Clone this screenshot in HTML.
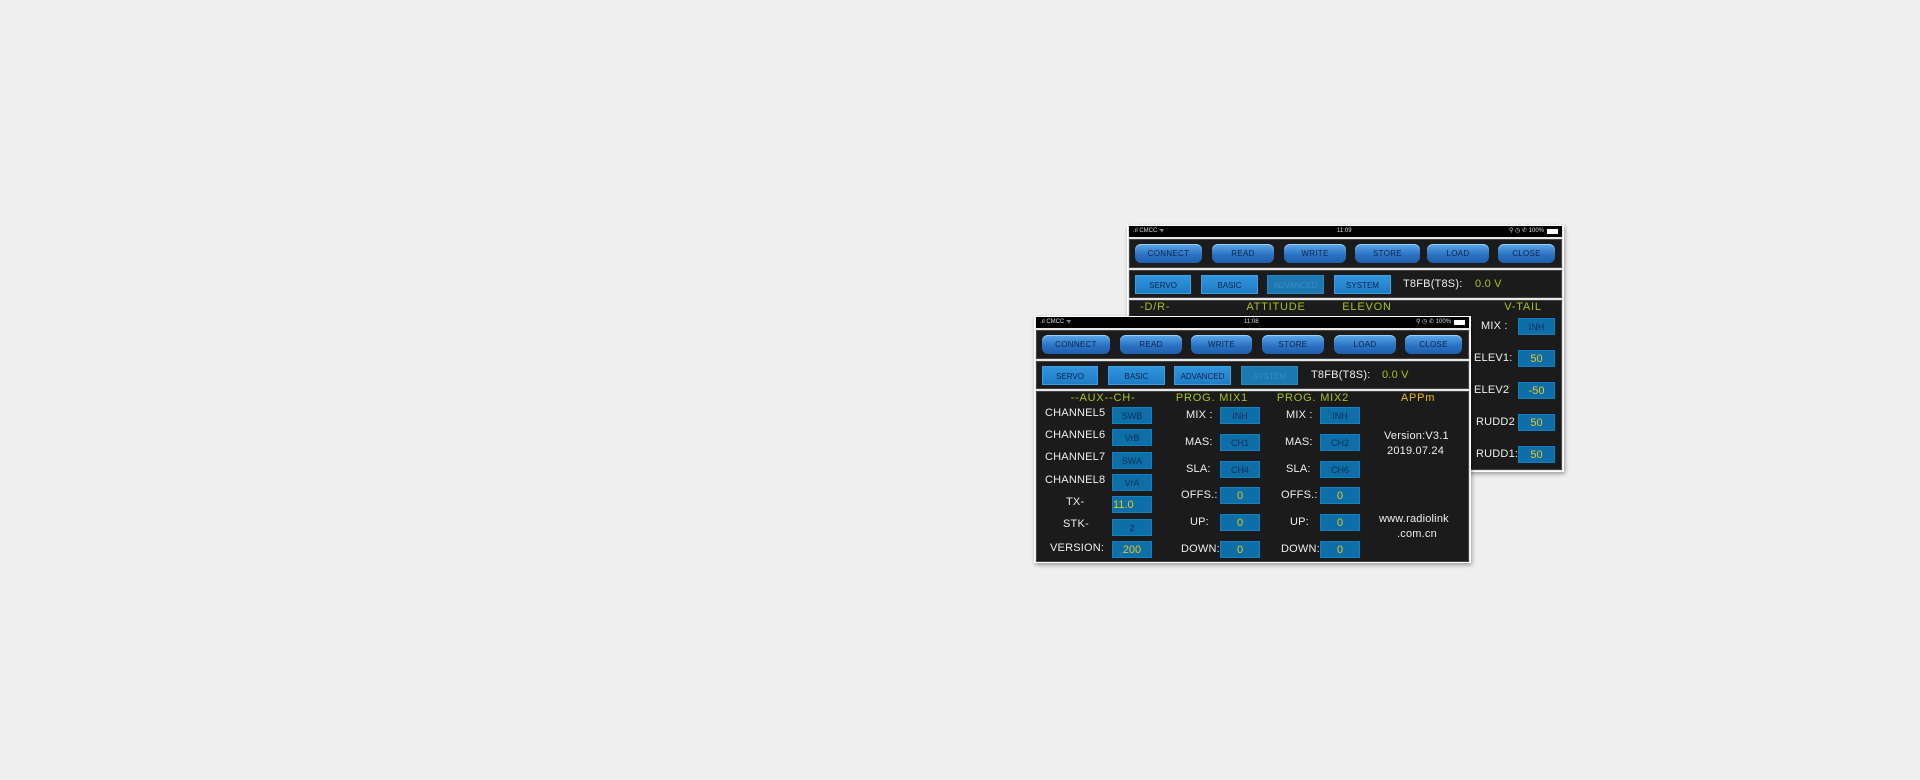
<!DOCTYPE html>
<html><head><meta charset="utf-8"><style>
*{margin:0;padding:0;box-sizing:border-box}
body{width:1920px;height:780px;background:#efefef;position:relative;overflow:hidden;font-family:"Liberation Sans",sans-serif}
.a{position:absolute}
.scr{position:absolute;background:#e8e8e8;box-shadow:1px 2px 4px rgba(0,0,0,.35);border:1px solid #fff}
.sb{position:absolute;background:#000;color:#ddd;font-size:6px;line-height:11px}
.pn{position:absolute;background:#1b1b1b;border:1px solid #444}
.btn{position:absolute;height:19px;border-radius:6px;background:linear-gradient(#5aa8ea,#2a70c0 60%,#1f5fae);color:#0c2550;font-size:8px;line-height:19px;text-align:center;box-shadow:inset 0 1px 0 #9ccff5;letter-spacing:.3px}
.tab{position:absolute;height:19px;background:linear-gradient(#2f95dc,#1f7cc6);color:#0c2550;font-size:8px;line-height:19px;text-align:center;border:1px solid #3aa0e0}
.tab.off{background:#1b78b0;color:#3a8cc0;border-color:#2a86bc}
.t{position:absolute;color:#eee;font-size:11px;white-space:nowrap;letter-spacing:.2px}
.h{position:absolute;color:#a8c414;font-size:11px;white-space:nowrap;transform:translateX(-50%);letter-spacing:.8px}
.v{position:absolute;width:40px;height:17px;background:#0e6ea8;border:1px solid #1580c0;color:#0b2f5a;font-size:9px;line-height:16px;text-align:center}
.y{color:#e8c81a;font-size:11px}
</style></head><body>

<!-- BACK SCREEN -->
<div class="scr" style="left:1127px;top:225px;width:437px;height:247px"></div>
<div class="sb" style="left:1129px;top:226px;width:433px;height:11px"><span style="position:absolute;left:4px">.ıl CMCC ᯤ</span><span style="position:absolute;left:208px">11:09</span><span style="position:absolute;right:18px">⚲ ◷ ✆ 100%</span><span style="position:absolute;right:4px;top:3px;width:11px;height:5px;background:#fff"></span></div>
<div class="pn" style="left:1129px;top:239px;width:433px;height:29px"></div>
<div class="btn" style="left:1135px;top:244px;width:67px">CONNECT</div>
<div class="btn" style="left:1212px;top:244px;width:62px">READ</div>
<div class="btn" style="left:1284px;top:244px;width:62px">WRITE</div>
<div class="btn" style="left:1355px;top:244px;width:65px">STORE</div>
<div class="btn" style="left:1427px;top:244px;width:62px">LOAD</div>
<div class="btn" style="left:1498px;top:244px;width:57px">CLOSE</div>
<div class="pn" style="left:1129px;top:270px;width:433px;height:28px"></div>
<div class="tab" style="left:1135px;top:275px;width:56px">SERVO</div>
<div class="tab" style="left:1201px;top:275px;width:57px">BASIC</div>
<div class="tab off" style="left:1267px;top:275px;width:57px">ADVANCED</div>
<div class="tab" style="left:1334px;top:275px;width:57px">SYSTEM</div>
<div class="t" style="left:1403px;top:278px">T8FB(T8S):</div>
<div class="t" style="left:1475px;top:278px;color:#a8c414">0.0 V</div>
<div class="pn" style="left:1129px;top:300px;width:433px;height:170px"></div>
<div class="t" style="left:1140px;top:301px;color:#a8c414;letter-spacing:.8px">-D/R-</div>
<div class="h" style="left:1276px;top:301px">ATTITUDE</div>
<div class="h" style="left:1367px;top:301px">ELEVON</div>
<div class="h" style="left:1523px;top:301px">V-TAIL</div>
<div class="t" style="left:1481px;top:320px">MIX :</div>
<div class="v" style="left:1518px;top:318px;width:37px">INH</div>
<div class="t" style="left:1474px;top:352px">ELEV1:</div>
<div class="v y" style="left:1518px;top:350px;width:37px">50</div>
<div class="t" style="left:1474px;top:384px">ELEV2</div>
<div class="v y" style="left:1518px;top:382px;width:37px">-50</div>
<div class="t" style="left:1476px;top:416px">RUDD2</div>
<div class="v y" style="left:1518px;top:414px;width:37px">50</div>
<div class="t" style="left:1476px;top:448px">RUDD1:</div>
<div class="v y" style="left:1518px;top:446px;width:37px">50</div>

<!-- FRONT SCREEN -->
<div class="scr" style="left:1034px;top:316px;width:437px;height:247px"></div>
<div class="sb" style="left:1036px;top:317px;width:433px;height:11px"><span style="position:absolute;left:4px">.ıl CMCC ᯤ</span><span style="position:absolute;left:208px">11:08</span><span style="position:absolute;right:18px">⚲ ◷ ✆ 100%</span><span style="position:absolute;right:4px;top:3px;width:11px;height:5px;background:#fff"></span></div>
<div class="pn" style="left:1036px;top:330px;width:433px;height:29px"></div>
<div class="btn" style="left:1042px;top:335px;width:68px">CONNECT</div>
<div class="btn" style="left:1120px;top:335px;width:62px">READ</div>
<div class="btn" style="left:1191px;top:335px;width:61px">WRITE</div>
<div class="btn" style="left:1262px;top:335px;width:62px">STORE</div>
<div class="btn" style="left:1334px;top:335px;width:62px">LOAD</div>
<div class="btn" style="left:1405px;top:335px;width:57px">CLOSE</div>
<div class="pn" style="left:1036px;top:361px;width:433px;height:28px"></div>
<div class="tab" style="left:1042px;top:366px;width:56px">SERVO</div>
<div class="tab" style="left:1108px;top:366px;width:57px">BASIC</div>
<div class="tab" style="left:1174px;top:366px;width:57px">ADVANCED</div>
<div class="tab off" style="left:1241px;top:366px;width:57px">SYSTEM</div>
<div class="t" style="left:1311px;top:369px">T8FB(T8S):</div>
<div class="t" style="left:1382px;top:369px;color:#a8c414">0.0 V</div>
<div class="pn" style="left:1036px;top:391px;width:433px;height:171px"></div>
<div class="h" style="left:1103px;top:392px">--AUX--CH-</div>
<div class="h" style="left:1212px;top:392px">PROG. MIX1</div>
<div class="h" style="left:1313px;top:392px">PROG. MIX2</div>
<div class="h" style="left:1418px;top:392px;color:#e8b818">APPm</div>

<div class="t" style="left:1045px;top:407px">CHANNEL5</div><div class="v" style="left:1112px;top:407px">SWB</div>
<div class="t" style="left:1045px;top:429px">CHANNEL6</div><div class="v" style="left:1112px;top:429px">VrB</div>
<div class="t" style="left:1045px;top:451px">CHANNEL7</div><div class="v" style="left:1112px;top:452px">SWA</div>
<div class="t" style="left:1045px;top:474px">CHANNEL8</div><div class="v" style="left:1112px;top:474px">VrA</div>
<div class="t" style="left:1066px;top:496px">TX-</div><div class="v y" style="left:1112px;top:496px;text-align:left">11.0</div>
<div class="t" style="left:1063px;top:518px">STK-</div><div class="v" style="left:1112px;top:519px">2</div>
<div class="t" style="left:1050px;top:542px">VERSION:</div><div class="v y" style="left:1112px;top:541px">200</div>

<div class="t" style="left:1186px;top:409px">MIX :</div><div class="v" style="left:1220px;top:407px">INH</div>
<div class="t" style="left:1185px;top:436px">MAS:</div><div class="v" style="left:1220px;top:434px">CH1</div>
<div class="t" style="left:1186px;top:463px">SLA:</div><div class="v" style="left:1220px;top:461px">CH4</div>
<div class="t" style="left:1181px;top:489px">OFFS.:</div><div class="v y" style="left:1220px;top:487px">0</div>
<div class="t" style="left:1190px;top:516px">UP:</div><div class="v y" style="left:1220px;top:514px">0</div>
<div class="t" style="left:1181px;top:543px">DOWN:</div><div class="v y" style="left:1220px;top:541px">0</div>

<div class="t" style="left:1286px;top:409px">MIX :</div><div class="v" style="left:1320px;top:407px">INH</div>
<div class="t" style="left:1285px;top:436px">MAS:</div><div class="v" style="left:1320px;top:434px">CH2</div>
<div class="t" style="left:1286px;top:463px">SLA:</div><div class="v" style="left:1320px;top:461px">CH6</div>
<div class="t" style="left:1281px;top:489px">OFFS.:</div><div class="v y" style="left:1320px;top:487px">0</div>
<div class="t" style="left:1290px;top:516px">UP:</div><div class="v y" style="left:1320px;top:514px">0</div>
<div class="t" style="left:1281px;top:543px">DOWN:</div><div class="v y" style="left:1320px;top:541px">0</div>

<div class="t" style="left:1384px;top:430px">Version:V3.1</div>
<div class="t" style="left:1387px;top:445px">2019.07.24</div>
<div class="t" style="left:1379px;top:513px">www.radiolink</div>
<div class="t" style="left:1397px;top:528px">.com.cn</div>
</body></html>
